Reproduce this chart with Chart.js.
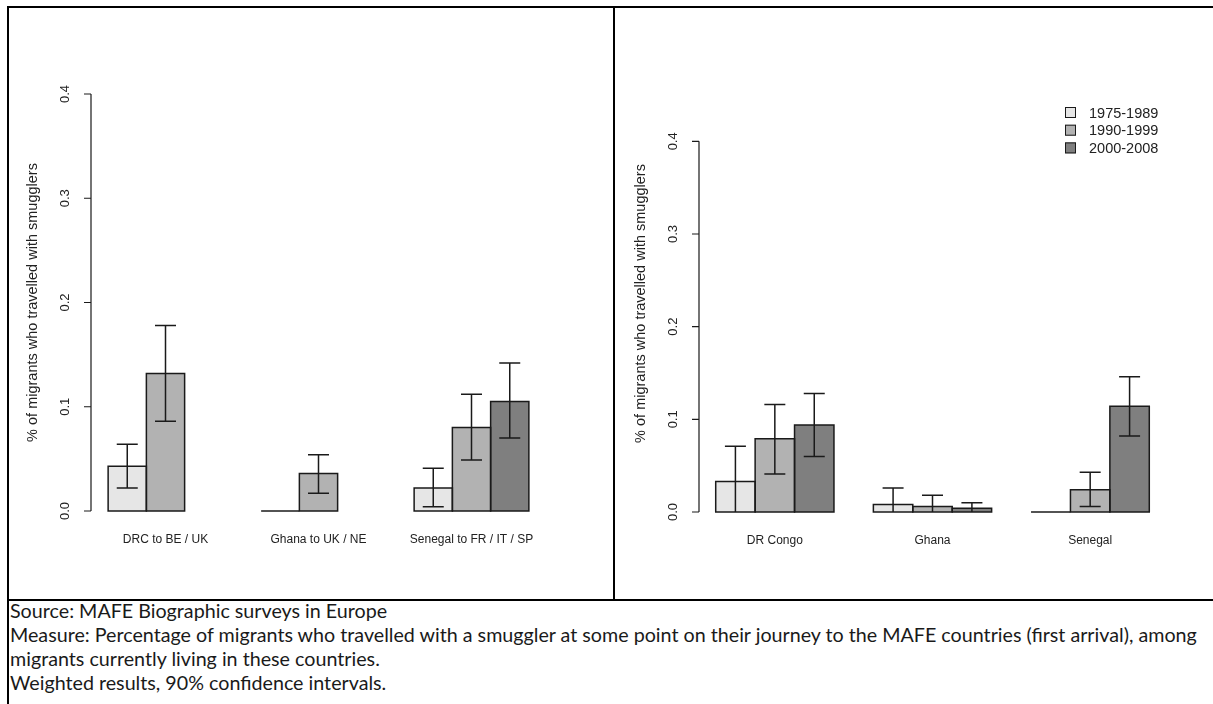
<!DOCTYPE html>
<html>
<head>
<meta charset="utf-8">
<script src="https://cdn.jsdelivr.net/npm/chart.js@4/dist/chart.umd.min.js"></script>
<style>
  body { margin: 0; background: #fff; width: 1213px; height: 704px; overflow: hidden; position: relative; }
  .rule { position: absolute; background: #000; }
  canvas { position: absolute; }
  #notes { position: absolute; left: 10px; top: 599px; font-family: Lato, "Open Sans", sans-serif; font-weight: 400; color: #1a1a1a; line-height: 24px; }
  #notes div { white-space: nowrap; }
</style>
</head>
<body>
<div class="rule" style="left:7px;top:6px;width:1206px;height:2px"></div>
<div class="rule" style="left:7px;top:6px;width:2px;height:698px"></div>
<div class="rule" style="left:613px;top:6px;width:2px;height:594px"></div>
<div class="rule" style="left:7px;top:599px;width:1206px;height:2px"></div>

<canvas id="leftChart" width="604" height="591" style="left:9px;top:8px"></canvas>
<canvas id="rightChart" width="598" height="591" style="left:615px;top:8px"></canvas>

<div id="notes">
  <div>Source: MAFE Biographic surveys in Europe</div>
  <div id="longLine">Measure: Percentage of migrants who travelled with a smuggler at some point on their journey to the MAFE countries (first arrival), among</div>
  <div>migrants currently living in these countries.</div>
  <div>Weighted results, 90% confidence intervals.</div>
</div>

<script>
// periods and colours
const periods = ["1975-1989", "1990-1999", "2000-2008"];
const fills = ["#E6E6E6", "#B2B2B2", "#7F7F7F"];
const yTicks = [0, 0.1, 0.2, 0.3, 0.4];
const yTitle = "% of migrants who travelled with smugglers";

// left panel: destination countries
const leftCategories = ["DRC to BE / UK", "Ghana to UK / NE", "Senegal to FR / IT / SP"];
const left1975 = [0.043, 0, 0.022];
const left1975Lo = [0.022, null, 0.004];
const left1975Hi = [0.064, null, 0.041];
const left1990 = [0.132, 0.036, 0.080];
const left1990Lo = [0.086, 0.017, 0.049];
const left1990Hi = [0.178, 0.054, 0.112];
const left2000 = [null, null, 0.105];
const left2000Lo = [null, null, 0.070];
const left2000Hi = [null, null, 0.142];

// right panel: origin countries
const rightCategories = ["DR Congo", "Ghana", "Senegal"];
const right1975 = [0.033, 0.008, 0];
const right1975Lo = [0, 0, null];
const right1975Hi = [0.071, 0.026, null];
const right1990 = [0.079, 0.006, 0.024];
const right1990Lo = [0.041, 0, 0.006];
const right1990Hi = [0.116, 0.018, 0.043];
const right2000 = [0.094, 0.004, 0.114];
const right2000Lo = [0.060, 0, 0.082];
const right2000Hi = [0.128, 0.010, 0.146];

function makeDataset(i, values, lo, hi) {
    return {
        label: periods[i],
        data: values,
        errLo: lo,
        errHi: hi,
        backgroundColor: fills[i],
        borderWidth: 0,
        inflateAmount: 0,
        categoryPercentage: 0.75,
        barPercentage: 1.0
    };
}

// R-style axis, bar outlines, error bars and legend
const rStyle = {
    id: "rStyle",
    afterDatasetsDraw(chart) {
        const ctx = chart.ctx, y = chart.scales.y;
        ctx.save();
        ctx.strokeStyle = "#1a1a1a";
        ctx.lineWidth = 1.5;
        chart.data.datasets.forEach((ds, d) => {
            chart.getDatasetMeta(d).data.forEach((bar, i) => {
                const v = ds.data[i];
                if (v === null) return;
                const base = y.getPixelForValue(0);
                const left = bar.x - bar.width / 2, right = bar.x + bar.width / 2;
                ctx.beginPath();
                if (v === 0) {
                    ctx.moveTo(left, base); ctx.lineTo(right, base);
                } else {
                    ctx.rect(left, bar.y, right - left, base - bar.y);
                }
                ctx.stroke();
            });
        });
        chart.data.datasets.forEach((ds, d) => {
            chart.getDatasetMeta(d).data.forEach((bar, i) => {
                const lo = ds.errLo[i], hi = ds.errHi[i];
                if (ds.data[i] === null || lo === null || hi === null) return;
                const yl = y.getPixelForValue(lo), yh = y.getPixelForValue(hi);
                ctx.beginPath();
                ctx.moveTo(bar.x, yl); ctx.lineTo(bar.x, yh);
                ctx.moveTo(bar.x - 10.5, yh); ctx.lineTo(bar.x + 10.5, yh);
                if (lo > 0) { ctx.moveTo(bar.x - 10.5, yl); ctx.lineTo(bar.x + 10.5, yl); }
                ctx.stroke();
            });
        });
        ctx.restore();
    },
    afterDraw(chart, args, opts) {
        const ctx = chart.ctx, y = chart.scales.y, x = chart.scales.x;
        const area = chart.chartArea;
        const ax = area.left + opts.axisShift;
        ctx.save();
        ctx.strokeStyle = "#1a1a1a";
        ctx.fillStyle = "#222";
        ctx.lineWidth = 1.2;
        ctx.beginPath();
        ctx.moveTo(ax, y.getPixelForValue(yTicks[0]));
        ctx.lineTo(ax, y.getPixelForValue(yTicks[yTicks.length - 1]));
        yTicks.forEach(t => {
            const py = y.getPixelForValue(t);
            ctx.moveTo(ax, py); ctx.lineTo(ax - 7, py);
        });
        ctx.stroke();

        ctx.font = "13px 'Liberation Sans', Arial, sans-serif";
        ctx.textAlign = "center";
        ctx.textBaseline = "middle";
        yTicks.forEach(t => {
            const py = y.getPixelForValue(t);
            ctx.save();
            ctx.translate(ax - 26, py);
            ctx.rotate(-Math.PI / 2);
            ctx.fillText(t.toFixed(1), 0, 0);
            ctx.restore();
        });

        ctx.font = "14.5px 'Liberation Sans', Arial, sans-serif";
        ctx.save();
        ctx.translate(ax - 58, (area.top + area.bottom) / 2);
        ctx.rotate(-Math.PI / 2);
        ctx.fillText(yTitle, 0, 0);
        ctx.restore();

        ctx.font = "12px 'Liberation Sans', Arial, sans-serif";
        chart.data.labels.forEach((lab, i) => {
            ctx.fillText(lab, x.getPixelForValue(i), y.getPixelForValue(0) + 29);
        });

        if (opts.legend) {
            ctx.font = "14.5px 'Liberation Sans', Arial, sans-serif";
            ctx.textAlign = "left";
            chart.data.datasets.forEach((ds, d) => {
                const ly = opts.legend.y + d * 17.7;
                ctx.fillStyle = ds.backgroundColor;
                ctx.fillRect(opts.legend.x, ly - 5.5, 11, 11);
                ctx.lineWidth = 1;
                ctx.strokeRect(opts.legend.x + 0.5, ly - 5, 10, 10);
                ctx.fillStyle = "#222";
                ctx.fillText(ds.label, opts.legend.x + 24, ly + 1);
            });
        }
        ctx.restore();
    }
};

function buildChart(id, labels, datasets, yMax, padding, extra) {
    return new Chart(document.getElementById(id).getContext("2d"), {
        type: "bar",
        data: { labels: labels, datasets: datasets },
        options: {
            responsive: false,
            animation: false,
            layout: { padding: padding },
            scales: {
                x: { display: false },
                y: { display: false, min: 0, max: yMax }
            },
            plugins: {
                legend: { display: false },
                tooltip: { enabled: false },
                rStyle: extra
            }
        },
        plugins: [rStyle]
    });
}

buildChart("leftChart", leftCategories, [
    makeDataset(0, left1975, left1975Lo, left1975Hi),
    makeDataset(1, left1990, left1990Lo, left1990Hi),
    makeDataset(2, left2000, left2000Lo, left2000Hi)
], 0.4, { left: 80, right: 65, top: 86, bottom: 88 }, { axisShift: 2 });

buildChart("rightChart", rightCategories, [
    makeDataset(0, right1975, right1975Lo, right1975Hi),
    makeDataset(1, right1990, right1990Lo, right1990Hi),
    makeDataset(2, right2000, right2000Lo, right2000Hi)
], 0.45, { left: 81, right: 44, top: 87, bottom: 87 }, { axisShift: 3, legend: { x: 450, y: 104.5 } });

// fit the note text to the width of the original
const notes = document.getElementById("notes");
const longLine = document.getElementById("longLine");
let size = 16;
notes.style.fontSize = size + "px";
const w = longLine.getBoundingClientRect().width;
size = size * 1188 / w;
notes.style.fontSize = size.toFixed(2) + "px";
</script>
</body>
</html>
